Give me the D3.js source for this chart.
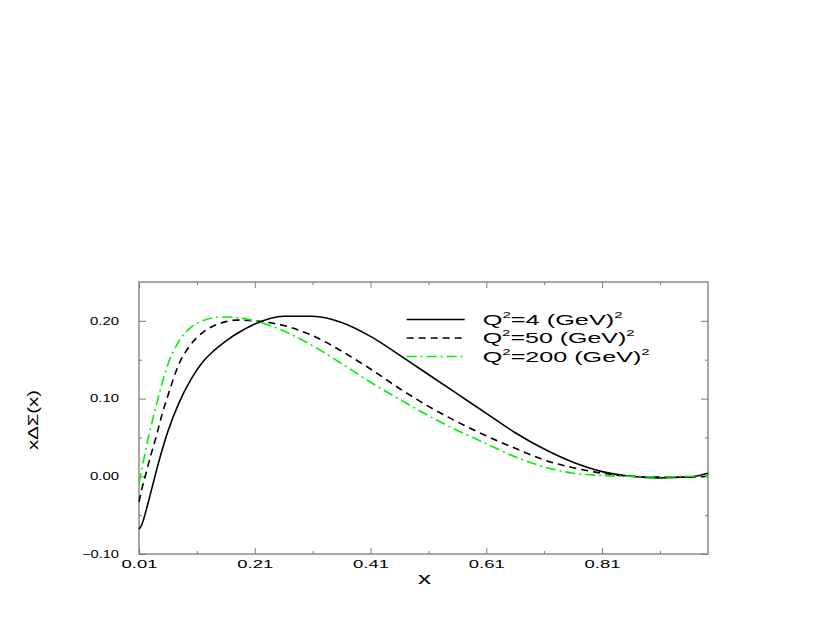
<!DOCTYPE html>
<html>
<head>
<meta charset="utf-8">
<script src="https://cdn.jsdelivr.net/npm/d3@7"></script>
<style>
  body { margin: 0; background: #fff; }
  text { font-family: "Liberation Sans", Arial, sans-serif; }
</style>
</head>
<body>
<div id="chart"></div>
<script>
// data
var xs   = [0.01, 0.015, 0.02, 0.03, 0.04, 0.05, 0.06, 0.08, 0.10, 0.12, 0.14, 0.16, 0.18, 0.21,
            0.26, 0.31, 0.36, 0.41, 0.46, 0.51, 0.56, 0.61, 0.66, 0.71, 0.76, 0.81, 0.86, 0.91, 0.96, 0.993];
var q4   = [-0.068, -0.062, -0.050, -0.022, 0.007, 0.034, 0.058, 0.096, 0.125, 0.147, 0.162, 0.174, 0.184, 0.196,
            0.206, 0.206, 0.198, 0.180, 0.156, 0.131, 0.106, 0.081, 0.056, 0.035, 0.018, 0.006, 0.000, -0.002, -0.001, 0.004];
var q50  = [-0.033, -0.016, -0.002, 0.026, 0.052, 0.080, 0.104, 0.146, 0.170, 0.185, 0.194, 0.199, 0.201, 0.200,
            0.194, 0.181, 0.161, 0.138, 0.113, 0.090, 0.070, 0.052, 0.036, 0.021, 0.011, 0.004, 0.000, -0.001, -0.001, 0.000];
var q200 = [-0.009, 0.010, 0.028, 0.062, 0.092, 0.120, 0.144, 0.175, 0.192, 0.200, 0.204, 0.205, 0.204, 0.200,
            0.187, 0.168, 0.145, 0.121, 0.099, 0.078, 0.059, 0.042, 0.025, 0.012, 0.004, 0.001, 0.000, -0.001, 0.000, 0.000];
var qLabels = ["4", "50", "200"];
var xMajor = [0.01, 0.21, 0.41, 0.61, 0.81];
var xMinor = [0.11, 0.31, 0.51, 0.71, 0.91];
var yMajor = [-0.10, 0.00, 0.10, 0.20];
var yMinor = [-0.05, 0.05, 0.15];

var W = 830, H = 623;
var margin = {top: 282, right: 122, bottom: 69, left: 139},
    width = W - margin.left - margin.right,
    height = H - margin.top - margin.bottom;

var svg = d3.select("#chart").append("svg")
    .attr("width", W).attr("height", H)
  .append("g")
    .attr("transform", "translate(" + margin.left + "," + margin.top + ")");

var x = d3.scaleLinear().domain([0.01, 0.993]).range([0, width]);
var y = d3.scaleLinear().domain([-0.1, 0.25]).range([height, 0]);

var axisColor = "#7a7a7a";

function styleAxis(g) {
  g.select(".domain").remove();
  g.selectAll(".tick line").attr("stroke", axisColor);
}

// minor ticks (no labels)
svg.append("g").attr("transform", "translate(0," + height + ")")
  .call(d3.axisBottom(x).tickValues(xMinor).tickSize(-3).tickFormat("")).call(styleAxis);
svg.append("g")
  .call(d3.axisTop(x).tickValues(xMinor).tickSize(-3).tickFormat("")).call(styleAxis);
svg.append("g")
  .call(d3.axisLeft(y).tickValues(yMinor).tickSize(-3).tickFormat("")).call(styleAxis);
svg.append("g").attr("transform", "translate(" + width + ",0)")
  .call(d3.axisRight(y).tickValues(yMinor).tickSize(-3).tickFormat("")).call(styleAxis);

// major ticks
var xb = svg.append("g").attr("transform", "translate(0," + height + ")")
  .call(d3.axisBottom(x).tickValues(xMajor).tickSize(-6).tickPadding(7).tickFormat(d3.format(".2f")))
  .call(styleAxis);
xb.selectAll(".tick text")
  .attr("fill", "#000").style("font-size", "10.5px")
  .attr("textLength", 36).attr("lengthAdjust", "spacingAndGlyphs");

svg.append("g")
  .call(d3.axisTop(x).tickValues(xMajor).tickSize(-6).tickFormat("")).call(styleAxis);

var yl = svg.append("g")
  .call(d3.axisLeft(y).tickValues(yMajor).tickSize(-7).tickPadding(20).tickFormat(d3.format(".2f")))
  .call(styleAxis);
yl.selectAll(".tick text")
  .attr("fill", "#000").style("font-size", "10.5px")
  .attr("textLength", d => d < 0 ? 37 : 29).attr("lengthAdjust", "spacingAndGlyphs");

svg.append("g").attr("transform", "translate(" + width + ",0)")
  .call(d3.axisRight(y).tickValues(yMajor).tickSize(-7).tickFormat("")).call(styleAxis);

// frame
svg.append("rect")
  .attr("x", 0).attr("y", 0).attr("width", width).attr("height", height)
  .attr("fill", "none").attr("stroke", axisColor).attr("stroke-width", 1.3);

// curves
var series = [
  {name: qLabels[0], values: q4,   color: "#000",    dash: null},
  {name: qLabels[1], values: q50,  color: "#000",    dash: "7,5"},
  {name: qLabels[2], values: q200, color: "#00f000", dash: "10,4,2,4"}
];

var line = d3.line()
  .x((d, i) => x(xs[i]))
  .y(d => y(d))
  .curve(d3.curveMonotoneX);

svg.selectAll(".curve")
  .data(series)
  .enter()
  .append("path")
    .attr("class", "curve")
    .attr("d", d => line(d.values))
    .attr("fill", "none")
    .attr("stroke", d => d.color)
    .attr("stroke-width", 1.6)
    .attr("stroke-dasharray", d => d.dash);

// legend
var lgX = 406.7 - margin.left, lgY = 319.5 - margin.top;
var lengths = [140, 152, 167];
var lg = svg.selectAll(".lg")
  .data(series)
  .enter()
  .append("g")
    .attr("class", "lg")
    .attr("transform", (d, i) => "translate(" + lgX + "," + (lgY + i * 18.5) + ")");

lg.append("line")
  .attr("x1", 0).attr("x2", 58)
  .attr("stroke", d => d.color)
  .attr("stroke-width", 1.6)
  .attr("stroke-dasharray", d => d.dash);

var lt = lg.append("text")
  .attr("x", 76).attr("y", 5)
  .style("font-size", "15px")
  .attr("textLength", (d, i) => lengths[i])
  .attr("lengthAdjust", "spacingAndGlyphs");
lt.append("tspan").text("Q");
lt.append("tspan").attr("dy", -7).style("font-size", "9px").text("2");
lt.append("tspan").attr("dy", 7).text(d => "=" + d.name + " (GeV)");
lt.append("tspan").attr("dy", -7).style("font-size", "9px").text("2");

// axis titles
svg.append("text")
  .attr("x", x(0.41) + 54).attr("y", height + 30)
  .attr("text-anchor", "middle")
  .style("font-size", "16px")
  .attr("textLength", 13).attr("lengthAdjust", "spacingAndGlyphs")
  .text("x");

svg.append("text")
  .attr("transform", "translate(" + (38 - margin.left) + "," + (420 - margin.top) + ") rotate(-90)")
  .attr("text-anchor", "middle")
  .style("font-size", "15px")
  .attr("textLength", 60).attr("lengthAdjust", "spacingAndGlyphs")
  .text("xΔΣ(x)");
</script>
</body>
</html>
